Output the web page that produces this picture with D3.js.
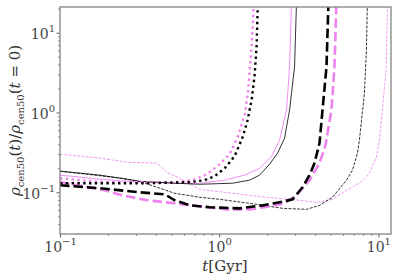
<!DOCTYPE html>
<head>
<script src="https://d3js.org/d3.v7.min.js"></script>
<style type="text/css">
	body { margin: 0; background: #fff; }
	svg { display: block; }
</style>
</head>
<body>
<div id="chart"></div>
</body>
<script>

	// times in Gyr and central density ratios
	var tBlackDotted = [0.1, 0.178, 0.367, 0.653, 0.811, 0.937, 1.083, 1.251, 1.404, 1.509, 1.599, 1.670, 1.719, 1.75];
	var rBlackDotted = [0.130, 0.130, 0.130, 0.134, 0.142, 0.159, 0.200, 0.284, 0.492, 0.805, 1.44, 2.96, 7.07, 25];

	var tVioletDotted = [0.1, 0.1335, 0.191, 0.367, 0.526, 0.682, 0.835, 1.007, 1.164, 1.306, 1.445, 1.509, 1.576, 1.622, 1.65];
	var rVioletDotted = [0.150, 0.142, 0.134, 0.134, 0.134, 0.142, 0.168, 0.225, 0.301, 0.492, 0.930, 1.66, 4.57, 10.9, 25];

	var tBlackSolid = [0.1, 0.178, 0.317, 0.526, 0.755, 1.215, 1.553, 1.794, 2.073, 2.327, 2.574, 2.767, 2.974, 3.061];
	var rBlackSolid = [0.184, 0.164, 0.1375, 0.130, 0.126, 0.130, 0.142, 0.164, 0.225, 0.309, 0.478, 1.075, 3.74, 25];

	var tVioletSolid = [0.1, 0.178, 0.308, 0.526, 0.755, 1.083, 1.445, 1.794, 2.134, 2.395, 2.501, 2.649, 2.767, 2.848];
	var rVioletSolid = [0.164, 0.146, 0.134, 0.130, 0.130, 0.142, 0.164, 0.200, 0.284, 0.451, 0.657, 1.075, 3.74, 25];

	var tBlackDashed = [0.1, 0.178, 0.317, 0.455, 0.526, 0.653, 0.872, 1.345, 1.874, 2.395, 2.890, 3.338, 3.694, 3.969, 4.267, 4.456, 4.721, 4.859];
	var rBlackDashed = [0.1225, 0.1123, 0.100, 0.0944, 0.0793, 0.0686, 0.0648, 0.0629, 0.0686, 0.0748, 0.0816, 0.1156, 0.164, 0.232, 0.413, 1.075, 3.74, 25];

	var tVioletDashed = [0.1, 0.191, 0.245, 0.356, 0.526, 0.755, 1.114, 1.553, 2.073, 2.574, 3.061, 3.694, 4.267, 4.653, 5.074, 5.298, 5.454];
	var rVioletDashed = [0.1336, 0.106, 0.0917, 0.0793, 0.0727, 0.0667, 0.0611, 0.0611, 0.0667, 0.0727, 0.0917, 0.142, 0.232, 0.390, 1.075, 3.74, 25];

	var tBlackThinDashed = [0.1, 0.245, 0.327, 0.526, 0.755, 1.007, 1.553, 2.501, 3.537, 4.267, 5.148, 6.301, 6.871, 7.384, 7.600, 8.171, 8.410, 8.532];
	var rBlackThinDashed = [0.184, 0.150, 0.134, 0.0971, 0.0865, 0.0816, 0.0727, 0.0629, 0.0611, 0.0686, 0.0865, 0.142, 0.189, 0.309, 0.451, 1.76, 6.11, 25];

	var tVioletThinDashed = [0.1, 0.178, 0.263, 0.406, 0.469, 0.565, 0.755, 1.215, 1.986, 3.197, 4.085, 5.148, 6.301, 7.600, 8.782, 9.716, 10.15, 10.59, 11.22, 11.39];
	var rVioletThinDashed = [0.301, 0.268, 0.238, 0.232, 0.178, 0.150, 0.109, 0.0971, 0.0865, 0.0793, 0.0748, 0.0816, 0.106, 0.130, 0.173, 0.276, 0.451, 1.075, 3.74, 25];

	var xTicks = [0.1, 1, 10];
	var xTickExp = ["\u22121", "0", "1"];
	var yTicks = [0.1, 1, 10];
	var yTickExp = ["\u22121", "0", "1"];

	var W = 399, H = 278;
	var margin = { top: 7, right: 8, bottom: 44, left: 60 };
	var width = W - margin.left - margin.right;
	var height = H - margin.top - margin.bottom;
	var serif = "DejaVu Serif";

	var svg = d3.select("#chart").append("svg")
		.attr("width", W)
		.attr("height", H);

	var g = svg.append("g")
		.attr("transform", "translate(" + margin.left + "," + margin.top + ")");

	var x = d3.scaleLog().domain([0.1, 12]).range([0, width]);
	var y = d3.scaleLog().domain([0.03, 21]).range([height, 0]);

	g.append("clipPath").attr("id", "clip")
		.append("rect").attr("width", width).attr("height", height);

	function minors(lo, hi) {
		var out = [];
		for (var e = lo; e <= hi; e++)
			for (var m = 2; m <= 9; m++) out.push(m * Math.pow(10, e));
		return out;
	}

	var tickColor = "#333";
	var spineColor = "#8c8c8c";

	// minor ticks
	g.append("g").attr("transform", "translate(0," + height + ")")
		.call(d3.axisBottom(x).tickValues(minors(-1, 1).filter(v => v < 12)).tickSize(2).tickFormat(""))
		.call(a => a.select(".domain").remove())
		.call(a => a.selectAll("line").attr("stroke", tickColor).attr("stroke-width", 0.6));
	g.append("g")
		.call(d3.axisLeft(y).tickValues(minors(-2, 1).filter(v => v > 0.03 && v < 21)).tickSize(2).tickFormat(""))
		.call(a => a.select(".domain").remove())
		.call(a => a.selectAll("line").attr("stroke", tickColor).attr("stroke-width", 0.6));

	// major ticks
	var xa = g.append("g").attr("transform", "translate(0," + height + ")")
		.call(d3.axisBottom(x).tickValues(xTicks).tickSize(3.5).tickFormat(""))
		.attr("font-family", serif);
	xa.select(".domain").remove();
	xa.selectAll("line").attr("stroke", tickColor).attr("stroke-width", 0.8);
	xa.selectAll(".tick").append("text")
		.attr("fill", "#444").attr("y", 18).attr("text-anchor", "middle")
		.style("font-size", "14px")
		.each(function(d, i) {
			var t = d3.select(this);
			t.append("tspan").text("10");
			t.append("tspan").attr("dy", -7).style("font-size", "10px").text(xTickExp[i]);
		});

	var ya = g.append("g")
		.call(d3.axisLeft(y).tickValues(yTicks).tickSize(3.5).tickFormat(""))
		.attr("font-family", serif);
	ya.select(".domain").remove();
	ya.selectAll("line").attr("stroke", tickColor).attr("stroke-width", 0.8);
	ya.selectAll(".tick").append("text")
		.attr("fill", "#444").attr("x", -5).attr("y", 6).attr("text-anchor", "end")
		.style("font-size", "14px")
		.each(function(d, i) {
			var t = d3.select(this);
			t.append("tspan").text("10");
			t.append("tspan").attr("dy", -7).style("font-size", "10px").text(yTickExp[i]);
		});

	// curves
	var line = d3.line().x(d => x(d[0])).y(d => y(d[1]));
	var series = [
		{ t: tVioletThinDashed, r: rVioletThinDashed, c: "violet", w: 0.8, dash: "3,1.3" },
		{ t: tBlackThinDashed, r: rBlackThinDashed, c: "black", w: 0.8, dash: "3,1.3" },
		{ t: tVioletSolid, r: rVioletSolid, c: "violet", w: 0.9, dash: null },
		{ t: tBlackSolid, r: rBlackSolid, c: "black", w: 0.8, dash: null },
		{ t: tVioletDashed, r: rVioletDashed, c: "violet", w: 2.6, dash: "9.5,4" },
		{ t: tBlackDashed, r: rBlackDashed, c: "black", w: 2.6, dash: "9.5,4" },
		{ t: tVioletDotted, r: rVioletDotted, c: "violet", w: 2.4, dash: "2.4,3.4" },
		{ t: tBlackDotted, r: rBlackDotted, c: "black", w: 2.4, dash: "2.4,3.4" }
	];
	var curves = g.append("g").attr("clip-path", "url(#clip)");
	series.forEach(function(s) {
		curves.append("path")
			.datum(s.t.map((v, i) => [v, s.r[i]]))
			.attr("d", line)
			.attr("fill", "none")
			.attr("stroke", s.c)
			.attr("stroke-width", s.w)
			.attr("stroke-dasharray", s.dash);
	});

	// frame
	g.append("rect")
		.attr("width", width).attr("height", height)
		.attr("fill", "none").attr("stroke", spineColor).attr("stroke-width", 1.4);

	// axis labels
	svg.append("text")
		.attr("x", 225).attr("y", 271)
		.attr("text-anchor", "middle").attr("fill", "#333")
		.attr("font-family", serif).style("font-size", "15px")
		.html('<tspan font-style="italic">t</tspan>[Gyr]');

	svg.append("text")
		.attr("transform", "translate(20," + (margin.top + height / 2) + ") rotate(-90)")
		.attr("text-anchor", "middle").attr("fill", "#333")
		.attr("font-family", serif).style("font-size", "15px")
		.html('<tspan font-style="italic">ρ</tspan><tspan dy="4" font-size="10px">cen50</tspan><tspan dy="-4">(</tspan><tspan font-style="italic">t</tspan>)/<tspan font-style="italic">ρ</tspan><tspan dy="4" font-size="10px">cen50</tspan><tspan dy="-4">(</tspan><tspan font-style="italic">t</tspan> = 0)');

</script>
